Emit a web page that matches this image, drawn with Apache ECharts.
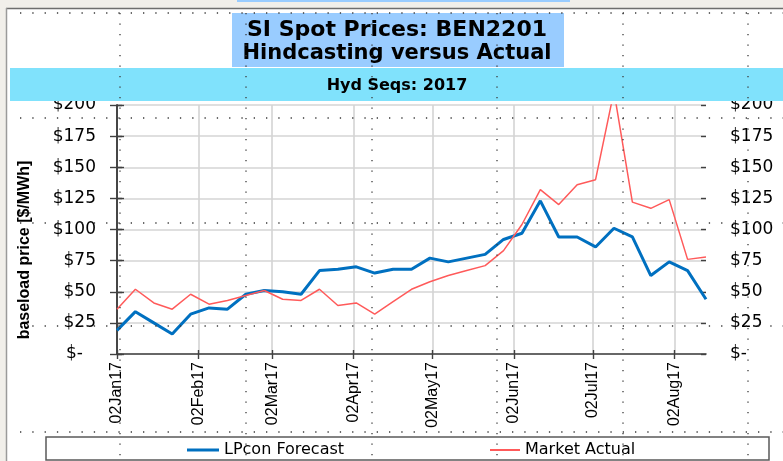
<!DOCTYPE html>
<html><head><meta charset="utf-8">
<script src="https://cdn.jsdelivr.net/npm/echarts@6/dist/echarts.min.js"></script>
<style>html,body{margin:0;padding:0;background:#fff}#c{width:783px;height:461px}</style>
</head><body><div id="c"></div>
<script>
// ---- data ----
const weekDates = ['2017-01-02','2017-01-09','2017-01-16','2017-01-23','2017-01-30',
  '2017-02-06','2017-02-13','2017-02-20','2017-02-27',
  '2017-03-06','2017-03-13','2017-03-20','2017-03-27',
  '2017-04-03','2017-04-10','2017-04-17','2017-04-24',
  '2017-05-01','2017-05-08','2017-05-15','2017-05-22','2017-05-29',
  '2017-06-05','2017-06-12','2017-06-19','2017-06-26',
  '2017-07-03','2017-07-10','2017-07-17','2017-07-24','2017-07-31',
  '2017-08-07','2017-08-14'];
const lpconForecast = [19,34,25,16,32,37,36,48,51,50,48,67,68,70,65,68,68,77,74,77,80,92,97,123,94,94,86,101,94,63,74,67,44];
const marketActual  = [36,52,41,36,48,40,43,47,51,44,43,52,39,41,32,42,52,58,63,67,71,83,104,132,120,136,140,211,122,117,124,76,78];
const monthTickDates  = ['2017-01-02','2017-02-02','2017-03-02','2017-04-02','2017-05-02','2017-06-02','2017-07-02','2017-08-02'];
const monthTickLabels = ['02Jan17','02Feb17','02Mar17','02Apr17','02May17','02Jun17','02Jul17','02Aug17'];
const yTickValues = [0,25,50,75,100,125,150,175,200];
const yTickLabels = ['$-','$25','$50','$75','$100','$125','$150','$175','$200'];
const seriesNames = ['LPcon Forecast','Market Actual'];

// ---- helpers ----
function dayNum(s){const p=s.split('-');return (Date.UTC(+p[0],+p[1]-1,+p[2])-Date.UTC(2017,0,2))/86400000;}
const xMin = dayNum(weekDates[0]);
const xMax = dayNum(weekDates[weekDates.length-1]);
const tickDays = monthTickDates.map(dayNum);
const labelMap = {}; tickDays.forEach((d,i)=>{labelMap[d]=monthTickLabels[i];});
const yLabelMap = {}; yTickValues.forEach((v,i)=>{yLabelMap[v]=yTickLabels[i];});
const blueData = weekDates.map((d,i)=>[dayNum(d), lpconForecast[i]]);
const redData  = weekDates.map((d,i)=>[dayNum(d), marketActual[i]]);

const AX = '#404040', GRIDC = '#d4d4d4';
const HF = 'DejaVu Sans', RF = 'Liberation Sans';
const BLUE = '#0070C0', RED = '#FF5A5A';

function yAxisCfg(pos, withLabel, inside, len){
  return {
    type:'value', position:pos, min:0, max:200, interval:25,
    axisLine:{show:withLabel, lineStyle:{color:AX, width:1.6}},
    axisTick:{show:true, inside:inside, length:len, lineStyle:{color:AX, width:1.4}},
    axisLabel:{show:withLabel, margin: pos==='left'?21:24, fontFamily:HF, fontSize:17, color:'#000',
      formatter: v => (v===0 && pos==='left') ? '{z|'+yLabelMap[v]+'}' : yLabelMap[v],
      rich:{z:{padding:[0,13,0,0], fontFamily:HF, fontSize:17, color:'#000'}}},
    splitLine:{show: withLabel && pos==='left', lineStyle:{color:GRIDC, width:1.6}}
  };
}

// dotted sheet-grid lines
const dots = [];
[13,118,223,326,432].forEach(y=>dots.push({type:'line', z:100, silent:true,
  shape:{x1:20,y1:y,x2:783,y2:y}, style:{stroke:'#3a3a3a', lineWidth:1.3, lineDash:[1.3,11]}}));
[120,246,372,497,623,748].forEach(x=>dots.push({type:'line', z:100, silent:true,
  shape:{x1:x,y1:13,x2:x,y2:461}, style:{stroke:'#3a3a3a', lineWidth:1.3, lineDash:[1.3,9.2]}}));

const chart = echarts.init(document.getElementById('c'));
chart.setOption({
  backgroundColor:'#ffffff',
  animation:false,
  grid:{left:117, right:77, top:105, bottom:107},
  xAxis:[
    {type:'value', position:'bottom', min:xMin, max:xMax,
     axisLine:{show:true, onZero:false, lineStyle:{color:AX, width:1.6}},
     axisTick:{show:true, customValues:tickDays, length:5, lineStyle:{color:AX, width:1.4}},
     axisLabel:{customValues:tickDays, rotate:90, margin:8, fontFamily:RF, fontSize:16, color:'#000',
       formatter: v => labelMap[v] || ''},
     splitLine:{show:true, lineStyle:{color:GRIDC, width:1.6}}},
    {type:'value', position:'bottom', min:xMin, max:xMax,
     axisLine:{show:false, onZero:false},
     axisTick:{show:true, inside:true, customValues:tickDays, length:4, lineStyle:{color:AX, width:1.4}},
     axisLabel:{show:false}, splitLine:{show:false}}
  ],
  yAxis:[
    yAxisCfg('left', true, false, 7),
    yAxisCfg('right', true, false, 7),
    yAxisCfg('left', false, true, 5),
    yAxisCfg('right', false, true, 5)
  ],
  legend:[
    {data:[{name:seriesNames[0], icon:'rect', itemStyle:{color:BLUE}}], left:187, top:442, padding:0,
     itemWidth:32, itemHeight:3, itemGap:5,
     textStyle:{fontFamily:HF, fontSize:16, color:'#000'}},
    {data:[{name:seriesNames[1], icon:'rect', itemStyle:{color:RED}}], left:490, top:442, padding:0,
     itemWidth:30, itemHeight:2, itemGap:5,
     textStyle:{fontFamily:HF, fontSize:16, color:'#000'}}
  ],
  series:[
    {name:seriesNames[0], type:'line', xAxisIndex:0, yAxisIndex:0, data:blueData, symbol:'none',
     lineStyle:{color:BLUE, width:3}, itemStyle:{color:BLUE}, clip:true, z:3},
    {name:seriesNames[1], type:'line', xAxisIndex:0, yAxisIndex:0, data:redData, symbol:'none',
     lineStyle:{color:RED, width:1.5}, itemStyle:{color:RED}, clip:true, z:4}
  ],
  graphic:[
    {type:'rect', z:1, silent:true, shape:{x:0,y:0,width:783,height:8}, style:{fill:'#F1EFEA'}},
    {type:'rect', z:1, silent:true, shape:{x:0,y:0,width:6,height:461}, style:{fill:'#F1EFEA'}},
    {type:'rect', z:2, silent:true, shape:{x:237,y:0,width:333,height:2}, style:{fill:'#99CCFF'}},
    {type:'line', z:2, silent:true, shape:{x1:6,y1:8.5,x2:783,y2:8.5}, style:{stroke:'#6e6e6e', lineWidth:1.5}},
    {type:'line', z:2, silent:true, shape:{x1:6.5,y1:8,x2:6.5,y2:461}, style:{stroke:'#9a9a9a', lineWidth:1.5}},
    {type:'rect', z:50, silent:true, shape:{x:232,y:13,width:332,height:54}, style:{fill:'#99CCFF'}},
    {type:'text', z:51, silent:true, style:{x:397, y:30, text:'SI Spot Prices: BEN2201', textAlign:'center', textVerticalAlign:'middle',
      font:'bold 22px "DejaVu Sans"', fill:'#000'}},
    {type:'text', z:51, silent:true, style:{x:397, y:54, text:'Hindcasting versus Actual', textAlign:'center', textVerticalAlign:'middle',
      font:'bold 21px "DejaVu Sans"', fill:'#000'}},
    {type:'rect', z:50, silent:true, shape:{x:10,y:68,width:773,height:33}, style:{fill:'#80E2FC'}},
    {type:'text', z:51, silent:true, style:{x:397, y:86, text:'Hyd Seqs: 2017', textAlign:'center', textVerticalAlign:'middle',
      font:'bold 16px "DejaVu Sans"', fill:'#000'}},
    {type:'text', z:51, silent:true, x:25, y:250, rotation:Math.PI/2, style:{x:0, y:0, text:'baseload price [$/MWh]', textAlign:'center', textVerticalAlign:'middle',
      font:'bold 16px "Liberation Sans"', fill:'#000'}},
    {type:'rect', z:0, silent:true, shape:{x:46,y:437,width:723,height:23}, style:{fill:'#fff', stroke:'#5a5a5a', lineWidth:1.5}}
  ].concat(dots)
});
</script></body></html>
